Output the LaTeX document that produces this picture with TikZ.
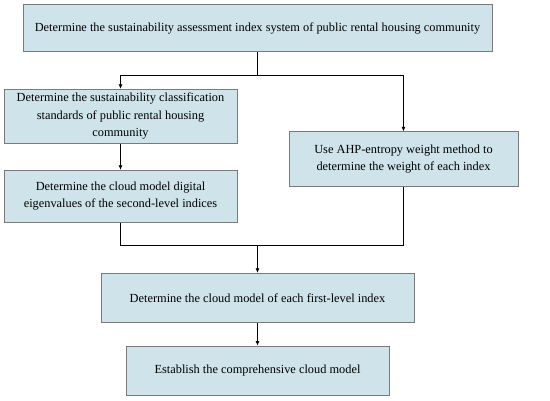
\documentclass[tikz,border=0pt]{standalone}
\usepackage{fontspec}
\setmainfont{Liberation Serif}
\usetikzlibrary{arrows.meta}
\definecolor{boxfill}{HTML}{CFE3EA}
\definecolor{boxline}{HTML}{7A7A7A}
\tikzset{
  stepbox/.style={draw=boxline, line width=0.9bp, fill=boxfill, inner sep=0pt, align=center,
    font=\fontsize{12.4}{17.5}\selectfont},
  conn/.style={draw=black, line width=0.7bp},
  arr/.style={conn, -{Latex[length=4.5bp,width=4bp]}}
}
\begin{document}
\begin{tikzpicture}[x=1bp,y=-1bp]
\useasboundingbox (0,0) rectangle (550,400);
\node[stepbox, minimum width=469bp, minimum height=47bp] (b1) at (257.5,28.2) {Determine the sustainability assessment index system of public rental housing community};
\node[stepbox, minimum width=233bp, minimum height=54bp] (b2) at (120.5,116.3) {Determine the sustainability classification\\standards of public rental housing\\community};
\node[stepbox, minimum width=233bp, minimum height=52bp] (b3) at (120.5,196.2) {Determine the cloud model digital\\eigenvalues of the second-level indices};
\node[stepbox, minimum width=229bp, minimum height=55bp] (b4) at (403.5,159.3) {Use AHP-entropy weight method to\\determine the weight of each index};
\node[stepbox, minimum width=313bp, minimum height=49bp] (b5) at (257.5,297.8) {Determine the cloud model of each first-level index};
\node[stepbox, minimum width=263bp, minimum height=49bp] (b6) at (257.5,370.5) {Establish the comprehensive cloud model};
\coordinate (j1) at (257.5,75);
\coordinate (j2) at (257.5,245);
\draw[conn] (b1.south) -- (j1);
\draw[arr] (j1) -| (b2.north);
\draw[arr] (j1) -| (b4.north);
\draw[arr] (b2) -- (b3);
\draw[conn] (b3.south) |- (j2);
\draw[conn] (b4.south) |- (j2);
\draw[arr] (j2) -- (b5.north);
\draw[arr] (b5) -- (b6);
\end{tikzpicture}
\end{document}
